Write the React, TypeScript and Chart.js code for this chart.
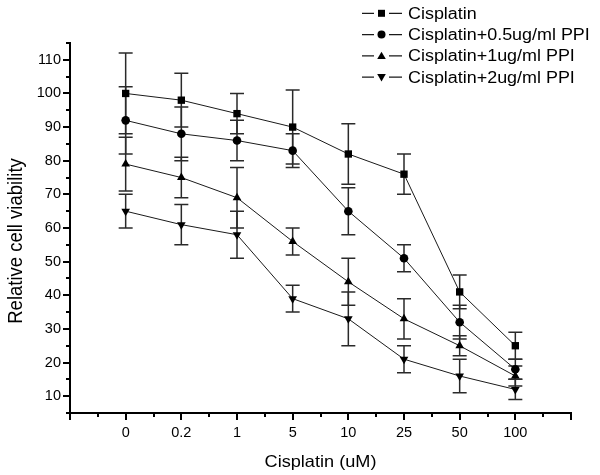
import React, { useEffect, useRef } from "react";
import { Chart, registerables } from "chart.js";

Chart.register(...registerables);

// ---- data ----
const categories = ["0", "0.2", "1", "5", "10", "25", "50", "100"];
const seriesLabels = [
  "Cisplatin",
  "Cisplatin+0.5ug/ml PPI",
  "Cisplatin+1ug/ml PPI",
  "Cisplatin+2ug/ml PPI",
];
const cisplatin = [100, 98, 94, 90, 82, 76, 41, 25];
const cisplatinErr = [12, 8, 6, 11, 9, 6, 5, 4];
const ppi05 = [92, 88, 86, 83, 65, 51, 32, 18];
const ppi05Err = [10, 8, 6, 5, 7, 4, 5, 3];
const ppi1 = [79, 75, 69, 56, 44, 33, 25, 16];
const ppi1Err = [8, 6, 9, 4, 7, 6, 3, 3];
const ppi2 = [65, 61, 58, 39, 33, 21, 16, 12];
const ppi2Err = [5, 6, 7, 4, 8, 4, 5, 3];
const yTickLabels = [10, 20, 30, 40, 50, 60, 70, 80, 90, 100, 110];
const xTitle = "Cisplatin (uM)";
const yTitle = "Relative cell viability";

const seriesValues = [cisplatin, ppi05, ppi1, ppi2];
const seriesErrors = [cisplatinErr, ppi05Err, ppi1Err, ppi2Err];
const markerKinds = ["square", "circle", "up", "down"];

const FONT = '"Liberation Sans", Arial, sans-serif';
const AXIS_LEFT = 70;
const AXIS_BOTTOM = 413;

function drawMarker(ctx: CanvasRenderingContext2D, kind: string, x: number, y: number) {
  ctx.beginPath();
  if (kind === "square") {
    ctx.rect(x - 3.5, y - 3.5, 7, 7);
  } else if (kind === "circle") {
    ctx.arc(x, y, 4, 0, Math.PI * 2);
  } else if (kind === "up") {
    ctx.moveTo(x, y - 4.2);
    ctx.lineTo(x + 4.3, y + 3.2);
    ctx.lineTo(x - 4.3, y + 3.2);
    ctx.closePath();
  } else {
    ctx.moveTo(x, y + 4.2);
    ctx.lineTo(x + 4.3, y - 3.2);
    ctx.lineTo(x - 4.3, y - 3.2);
    ctx.closePath();
  }
  ctx.fill();
}

function drawText(
  ctx: CanvasRenderingContext2D,
  text: string,
  x: number,
  y: number,
  size: number,
  align: CanvasTextAlign,
  sx: number
) {
  ctx.save();
  ctx.translate(x, y);
  ctx.scale(sx, 1);
  ctx.font = `${size}px ${FONT}`;
  ctx.textAlign = align;
  ctx.textBaseline = "alphabetic";
  ctx.fillStyle = "#000";
  ctx.fillText(text, 0, 0);
  ctx.restore();
}

const errorBarPlugin = {
  id: "errorBars",
  beforeDatasetsDraw(chart: any) {
    const { ctx } = chart;
    const xs = chart.scales.x;
    const ys = chart.scales.y;
    ctx.save();
    ctx.strokeStyle = "#2a2a2a";
    ctx.lineWidth = 1.5;
    seriesValues.forEach((vals, i) => {
      const errs = seriesErrors[i];
      vals.forEach((v, j) => {
        const px = xs.getPixelForValue(j);
        const top = ys.getPixelForValue(v + errs[j]);
        const bot = ys.getPixelForValue(v - errs[j]);
        ctx.beginPath();
        ctx.moveTo(px, top);
        ctx.lineTo(px, bot);
        ctx.moveTo(px - 7, top);
        ctx.lineTo(px + 7, top);
        ctx.moveTo(px - 7, bot);
        ctx.lineTo(px + 7, bot);
        ctx.stroke();
      });
    });
    ctx.restore();
  },
};

const decorPlugin = {
  id: "decor",
  afterDraw(chart: any) {
    const { ctx } = chart;
    const xs = chart.scales.x;
    const ys = chart.scales.y;
    const area = chart.chartArea;
    ctx.save();
    ctx.strokeStyle = "#000";
    ctx.lineWidth = 2;
    // x ticks (major at integers, minor at halves)
    for (let k = -2; k <= 16; k++) {
      const v = k / 2;
      const px = Math.round(xs.getPixelForValue(v));
      const len = k % 2 === 0 ? 7 : 4;
      ctx.beginPath();
      ctx.moveTo(px, area.bottom);
      ctx.lineTo(px, area.bottom + len);
      ctx.stroke();
    }
    // y ticks (major at tens, minor at fives)
    for (let v = 5; v <= 115; v += 5) {
      const py = Math.round(ys.getPixelForValue(v));
      const len = v % 10 === 0 ? 7 : 4;
      ctx.beginPath();
      ctx.moveTo(area.left - len, py);
      ctx.lineTo(area.left, py);
      ctx.stroke();
    }
    ctx.restore();

    // axis titles
    drawText(ctx, xTitle, (area.left + area.right) / 2, 467, 16.5, "center", 1.1);
    ctx.save();
    ctx.translate(22, 241);
    ctx.rotate(-Math.PI / 2);
    ctx.scale(1, 1.12);
    ctx.font = `18.5px ${FONT}`;
    ctx.textAlign = "center";
    ctx.textBaseline = "alphabetic";
    ctx.fillStyle = "#000";
    ctx.fillText(yTitle, 0, 0);
    ctx.restore();

    // legend
    seriesLabels.forEach((label, i) => {
      const cy = 13.3 + i * 21.3;
      ctx.save();
      ctx.strokeStyle = "#1a1a1a";
      ctx.lineWidth = 1.3;
      ctx.beginPath();
      ctx.moveTo(362, cy);
      ctx.lineTo(374, cy);
      ctx.moveTo(389, cy);
      ctx.lineTo(402, cy);
      ctx.stroke();
      ctx.fillStyle = "#000";
      drawMarker(ctx, markerKinds[i], 381.5, cy);
      ctx.restore();
      drawText(ctx, label, 408, cy + 5.5, 16, "left", 1.12);
    });
  },
};

const pointStyles: any[] = ["rect", "circle", "triangle", "triangle"];
const pointRadii = [5.2, 4.3, 5, 5];
const pointRotations = [0, 0, 0, 180];

export default function App() {
  const ref = useRef<HTMLCanvasElement | null>(null);

  useEffect(() => {
    if (!ref.current) return;
    const chart = new Chart(ref.current, {
      type: "line",
      data: {
        datasets: seriesValues.map((vals, i) => ({
          label: seriesLabels[i],
          data: vals.map((v, j) => ({ x: j, y: v })),
          borderColor: "#1a1a1a",
          borderWidth: 1,
          backgroundColor: "#000",
          pointBackgroundColor: "#000",
          pointBorderColor: "#000",
          pointBorderWidth: 0,
          pointStyle: pointStyles[i],
          pointRadius: pointRadii[i],
          pointRotation: pointRotations[i],
          fill: false,
          tension: 0,
          clip: false as any,
        })),
      },
      options: {
        animation: false,
        responsive: false,
        maintainAspectRatio: false,
        layout: { padding: { left: 0, top: 43, right: 29, bottom: 0 } },
        plugins: {
          legend: { display: false },
          tooltip: { enabled: false },
          title: { display: false },
        },
        events: [],
        scales: {
          x: {
            type: "linear",
            min: -1,
            max: 8,
            afterFit: (s: any) => {
              s.height = 475 - AXIS_BOTTOM;
            },
            ticks: {
              stepSize: 0.5,
              autoSkip: false,
              maxRotation: 0,
              minRotation: 0,
              padding: 4,
              color: "#000",
              font: { family: FONT, size: 14.5 },
              callback: (val: any) => {
                const n = Number(val);
                return Number.isInteger(n) && n >= 0 && n < categories.length ? categories[n] : "";
              },
            },
            grid: {
              drawOnChartArea: false,
              drawTicks: true,
              tickLength: 7,
              tickColor: "rgba(0,0,0,0)",
            },
            border: { display: true, color: "#000", width: 2 },
          },
          y: {
            type: "linear",
            min: 5,
            max: 115,
            afterFit: (s: any) => {
              s.width = AXIS_LEFT;
            },
            ticks: {
              stepSize: 5,
              autoSkip: false,
              padding: 2,
              color: "#000",
              font: { family: FONT, size: 14.5 },
              callback: (val: any) => {
                const n = Number(val);
                return yTickLabels.includes(n) ? String(n) : "";
              },
            },
            grid: {
              drawOnChartArea: false,
              drawTicks: true,
              tickLength: 7,
              tickColor: "rgba(0,0,0,0)",
            },
            border: { display: true, color: "#000", width: 2 },
          },
        },
      },
      plugins: [errorBarPlugin, decorPlugin],
    });
    return () => chart.destroy();
  }, []);

  return (
    <div style={{ position: "absolute", left: 0, top: 0, width: 600, height: 475, background: "#fff" }}>
      <canvas ref={ref} width={600} height={475} style={{ display: "block" }} />
    </div>
  );
}
